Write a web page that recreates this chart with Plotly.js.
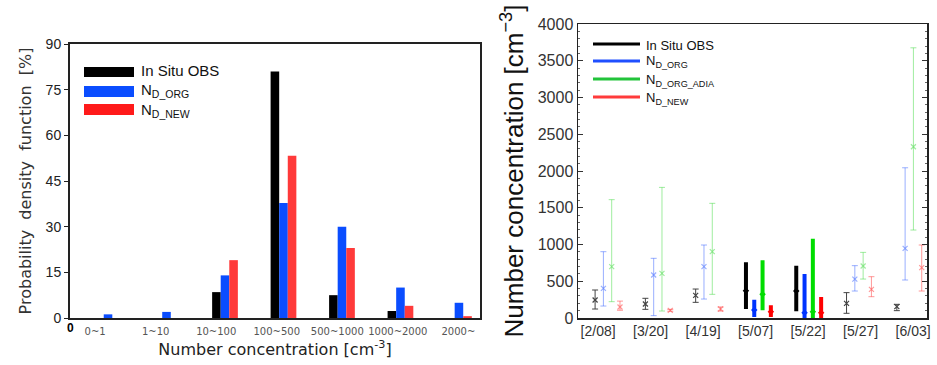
<!DOCTYPE html>
<html><head><meta charset="utf-8">
<script src="https://cdn.plot.ly/plotly-3.0.1.min.js"></script>
<style>html,body{margin:0;padding:0;background:#fff}#chart{width:937px;height:365px}</style>
</head><body><div id="chart"></div>
<script>
// ---------- Left panel data (PDF, %) ----------
const pdfCats = ['0~1','1~10','10~100','100~500','500~1000','1000~2000','2000~'];
const pdfObs  = [0, 0, 8.5, 81, 7.5, 2.3, 0];
const pdfOrg  = [1.2, 2, 14, 37.8, 30, 10, 5];
const pdfNew  = [0, 0, 19, 53.3, 23, 4, 0.6];

// ---------- Right panel data (number concentration, cm^-3) ----------
const dates = ['[2/08]','[3/20]','[4/19]','[5/07]','[5/22]','[5/27]','[6/03]'];
const boldDates = ['[5/07]','[5/22]'];
const obsMid = [245, 190, 308, 372, 367, 200, 154];
const obsHi  = [381, 268, 394, 732, 685, 345, 186];
const obsLo  = [122, 118, 213, 150, 118, 64, 100];
const orgMid = [404, 585, 698, 109, 73, 530, 948];
const orgHi  = [902, 812, 993, 222, 571, 712, 2044];
const orgLo  = [163, 32, 258, 41, 5, 367, 517];
const adiaMid = [698, 608, 902, 322, 86, 707, 2330];
const adiaHi  = [1610, 1777, 1560, 757, 1052, 893, 3676];
const adiaLo  = [222, 95, 322, 132, 5, 530, 1197];
const newMid = [150, 104, 122, 86, 73, 390, 685];
const newHi  = [230, 118, 150, 146, 258, 562, 993];
const newLo  = [105, 92, 95, 41, 5, 290, 367];

const W = 937, H = 365;
const px = x => x / W, py = y => 1 - y / H;

const traces = [];
// Left bars
const barIdx = pdfCats.map((c, i) => i);
[['In Situ OBS', pdfObs, '#000000'], ['N_D_ORG', pdfOrg, '#0a4dff'], ['N_D_NEW', pdfNew, '#ff3a3a']].forEach(([n, v, c]) => {
  traces.push({type: 'bar', x: barIdx, y: v, name: n, marker: {color: c, line: {width: 0}},
    xaxis: 'x', yaxis: 'y', showlegend: false, hoverinfo: 'x+y'});
});

// Right error-bar series
const series = [
  {name: 'In Situ OBS', mid: obsMid, hi: obsHi, lo: obsLo, thin: '#444444', bold: '#000000', off: 0},
  {name: 'N_D_ORG', mid: orgMid, hi: orgHi, lo: orgLo, thin: 'rgba(70,110,255,0.55)', bold: '#0033ff', off: 0.165},
  {name: 'N_D_ORG_ADIA', mid: adiaMid, hi: adiaHi, lo: adiaLo, thin: 'rgba(80,220,80,0.55)', bold: '#00dd00', off: 0.33},
  {name: 'N_D_NEW', mid: newMid, hi: newHi, lo: newLo, thin: 'rgba(255,70,70,0.55)', bold: '#ff0000', off: 0.495},
];
series.forEach(s => {
  ['thin', 'bold'].forEach(kind => {
    const idx = dates.map((d, i) => i).filter(i => (boldDates.includes(dates[i])) === (kind === 'bold'));
    const isBold = kind === 'bold';
    traces.push({
      type: 'scatter', mode: 'markers', xaxis: 'x2', yaxis: 'y2', showlegend: false,
      x: idx.map(i => i + s.off), y: idx.map(i => s.mid[i]), name: s.name,
      marker: isBold ? {symbol: 'diamond', size: 5, color: s.bold}
                     : {symbol: 'x-thin', size: 5, line: {width: 1.2, color: s.thin}, color: s.thin},
      error_y: {type: 'data', symmetric: false,
        array: idx.map(i => s.hi[i] - s.mid[i]), arrayminus: idx.map(i => s.mid[i] - s.lo[i]),
        color: isBold ? s.bold : s.thin, thickness: isBold ? 4 : 1, width: isBold ? 2 : 3}
    });
  });
});

const fontA = 'Liberation Sans, Arial, sans-serif';
const fontL = 'DejaVu Sans, sans-serif';

const shapes = [];
const annotations = [];
// Left legend (swatches)
[['In Situ OBS', '#000000', 67, 77, 71], ['N<sub>D_ORG</sub>', '#0a4dff', 86, 97, 91], ['N<sub>D_NEW</sub>', '#ff1a1a', 104, 115, 110]].forEach(([t, c, y0, y1, ty]) => {
  shapes.push({type: 'rect', xref: 'paper', yref: 'paper', x0: px(84), x1: px(134), y0: py(y1), y1: py(y0), fillcolor: c, line: {width: 0}});
  annotations.push({xref: 'paper', yref: 'paper', x: px(139), y: py(ty), xanchor: 'left', yanchor: 'middle', showarrow: false,
    text: t, font: {family: fontA, size: 15, color: '#111'}});
});
// Right legend (line samples)
[['In Situ OBS', '#000000', 44], ['N<sub>D_ORG</sub>', '#1f4fff', 61], ['N<sub>D_ORG_ADIA</sub>', '#22c33a', 79], ['N<sub>D_NEW</sub>', '#ff3b3b', 97]].forEach(([t, c, y]) => {
  shapes.push({type: 'line', xref: 'paper', yref: 'paper', x0: px(593), x1: px(640), y0: py(y), y1: py(y), line: {color: c, width: 3}});
  annotations.push({xref: 'paper', yref: 'paper', x: px(644), y: py(y + 1), xanchor: 'left', yanchor: 'middle', showarrow: false,
    text: t, font: {family: fontA, size: 13, color: '#111'}});
});
// bold "0" at left origin
annotations.push({xref: 'paper', yref: 'paper', x: px(70), y: py(328), xanchor: 'center', yanchor: 'middle', showarrow: false,
  text: '<b>0</b>', font: {family: fontA, size: 12, color: '#000'}});

const layout = {
  width: W, height: H, margin: {l: 0, r: 0, t: 0, b: 0},
  paper_bgcolor: '#fff', plot_bgcolor: '#fff',
  barmode: 'group', bargap: 0.56, bargroupgap: 0,
  showlegend: false,
  xaxis: {domain: [px(70), px(480)], range: [-0.65, 6.36], tickmode: 'array',
    tickvals: pdfCats.map((c, i) => i - 0.22 + 0.035 * i), ticktext: pdfCats, tickangle: 0,
    ticks: '', showgrid: false, zeroline: false, showline: true, linecolor: '#222', linewidth: 2, mirror: true,
    tickfont: {family: fontL, size: 10, color: '#555'}, ticklabelstandoff: 3,
    title: {text: 'Number concentration [cm<sup>-3</sup>]', font: {family: fontL, size: 16, color: '#222'}, standoff: 8}},
  yaxis: {domain: [py(318), py(44)], range: [0, 90], tickvals: [0, 15, 30, 45, 60, 75, 90],
    ticks: 'outside', ticklen: 4, tickcolor: '#222', showgrid: false, zeroline: false, showline: true, linecolor: '#222', linewidth: 2, mirror: true,
    tickfont: {family: fontA, size: 14, color: '#222'},
    title: {text: 'Probability  density  function  [%]', font: {family: fontL, size: 16, color: '#333'}, standoff: 10}},
  xaxis2: {anchor: 'y2', domain: [px(578), px(927)], range: [-0.34, 6.6], tickmode: 'array',
    tickvals: dates.map((d, i) => i * 1.044 + 0.06), ticktext: dates, tickangle: 0,
    ticks: '', showgrid: false, zeroline: false, showline: true, linecolor: '#222', linewidth: 1.5, mirror: true,
    tickfont: {family: fontA, size: 14, color: '#333'}},
  yaxis2: {anchor: 'x2', domain: [py(318), py(24)], range: [0, 4000], dtick: 500,
    ticks: 'inside', ticklen: 5, tickcolor: '#333', showgrid: false, zeroline: false, showline: true, linecolor: '#222', linewidth: 1.5, mirror: 'ticks',
    minor: {dtick: 100, ticks: 'inside', ticklen: 2, tickcolor: '#666'},
    tickfont: {family: fontA, size: 16, color: '#333'},
    title: {text: 'Number concentration [cm<sup>\u22123</sup>]', font: {family: fontA, size: 26, color: '#111'}, standoff: 6}},
  shapes: shapes, annotations: annotations
};

Plotly.newPlot('chart', traces, layout, {displayModeBar: false, staticPlot: true});
</script></body></html>
